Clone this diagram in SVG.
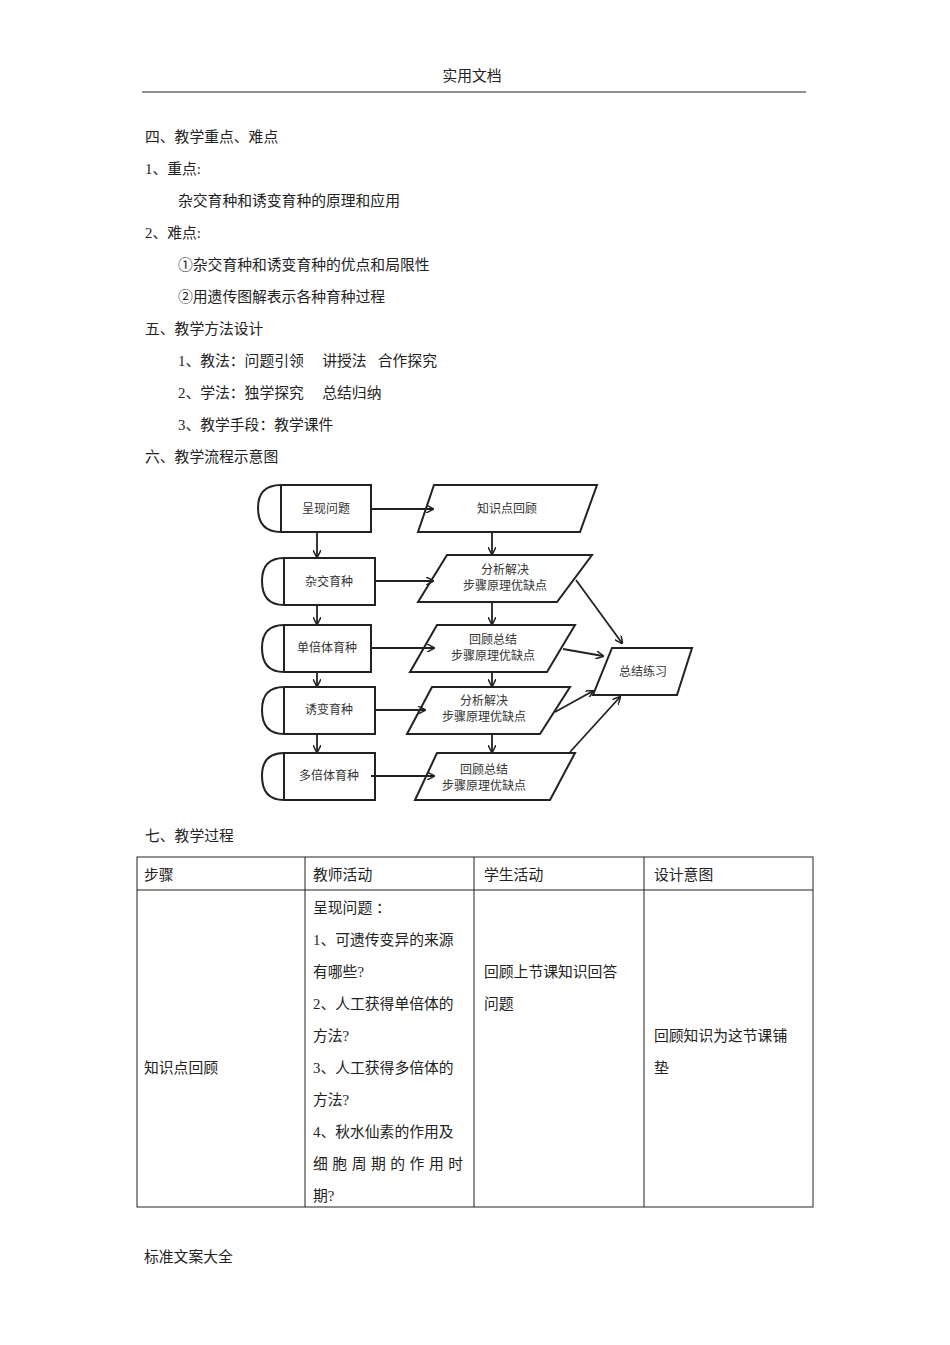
<svg xmlns="http://www.w3.org/2000/svg" width="950" height="1345" viewBox="0 0 950 1345">
<style>
text{font-family:"Liberation Serif","Noto Sans CJK SC",serif;font-size:14.8px;fill:#222}
.f{font-family:"Noto Sans CJK SC",sans-serif;font-size:12px;text-anchor:middle;fill:#333}
.n{fill:#fff;stroke:#222;stroke-width:2}
.c line{stroke:#222;stroke-width:1.8;marker-end:url(#a)}
.t{stroke:#222;stroke-width:1;fill:none}
</style>
<defs><marker id="a" markerWidth="8" markerHeight="8" refX="7" refY="4" orient="auto" markerUnits="userSpaceOnUse"><path d="M0,0 L8,4 L0,8" fill="none" stroke="#222" stroke-width="1.5"/></marker></defs>
<rect width="950" height="1345" fill="#fff"/>
<text x="472" y="81" text-anchor="middle" font-size="13">实用文档</text>
<line x1="142" y1="92" x2="806" y2="92" stroke="#222"/>
<text x="145" y="142">四、教学重点、难点</text>
<text x="145" y="174">1、重点:</text>
<text x="178" y="206">杂交育种和诱变育种的原理和应用</text>
<text x="145" y="238">2、难点:</text>
<text x="178" y="270">①杂交育种和诱变育种的优点和局限性</text>
<text x="178" y="302">②用遗传图解表示各种育种过程</text>
<text x="145" y="334">五、教学方法设计</text>
<text x="178" y="366" xml:space="preserve">1、教法：问题引领     讲授法   合作探究</text>
<text x="178" y="398" xml:space="preserve">2、学法：独学探究     总结归纳</text>
<text x="178" y="430">3、教学手段：教学课件</text>
<text x="145" y="462">六、教学流程示意图</text>
<g id="n1"><path class="n" d="M281,485 H371 V532 H281 Q258,532 258,508 Q258,485 281,485 Z"/><line x1="281" y1="485" x2="281" y2="532" stroke="#222" stroke-width="2"/><text class="f" x="326" y="513">呈现问题</text></g>
<g id="n2"><path class="n" d="M284,558 H375 V605 H284 Q262,605 262,581 Q262,558 284,558 Z"/><line x1="284" y1="558" x2="284" y2="605" stroke="#222" stroke-width="2"/><text class="f" x="329" y="586">杂交育种</text></g>
<g id="n3"><path class="n" d="M284,625 H371 V672 H284 Q262,672 262,648 Q262,625 284,625 Z"/><line x1="284" y1="625" x2="284" y2="672" stroke="#222" stroke-width="2"/><text class="f" x="327" y="652">单倍体育种</text></g>
<g id="n4"><path class="n" d="M284,687 H375 V734 H284 Q262,734 262,710 Q262,687 284,687 Z"/><line x1="284" y1="687" x2="284" y2="734" stroke="#222" stroke-width="2"/><text class="f" x="329" y="714">诱变育种</text></g>
<g id="n5"><path class="n" d="M284,753 H375 V800 H284 Q262,800 262,776 Q262,753 284,753 Z"/><line x1="284" y1="753" x2="284" y2="800" stroke="#222" stroke-width="2"/><text class="f" x="329" y="780">多倍体育种</text></g>
<g id="p1"><path class="n" d="M434,485 H597 L580,532 H418 Z"/><text class="f" x="507" y="513">知识点回顾</text></g>
<g id="p2"><path class="n" d="M447,555 H592 L557,602 H418 Z"/><text class="f" x="505" y="574">分析解决</text><text class="f" x="505" y="590">步骤原理优缺点</text></g>
<g id="p3"><path class="n" d="M437,625 H575 L547,672 H410 Z"/><text class="f" x="493" y="644">回顾总结</text><text class="f" x="493" y="660">步骤原理优缺点</text></g>
<g id="p4"><path class="n" d="M432,687 H570 L540,734 H407 Z"/><text class="f" x="484" y="705">分析解决</text><text class="f" x="484" y="721">步骤原理优缺点</text></g>
<g id="p5"><path class="n" d="M437,753 H575 L550,800 H415 Z"/><text class="f" x="484" y="774">回顾总结</text><text class="f" x="484" y="790">步骤原理优缺点</text></g>
<g id="s"><path class="n" d="M612,648 H692 L677,695 H593 Z"/><text class="f" x="643" y="676">总结练习</text></g>
<g class="c">
<line x1="371" y1="509" x2="433" y2="509"/><line x1="375" y1="581" x2="433" y2="581"/><line x1="371" y1="648" x2="434" y2="648"/><line x1="375" y1="710" x2="425" y2="710"/><line x1="371" y1="776" x2="434" y2="776"/>
<line x1="317" y1="532" x2="317" y2="557"/><line x1="317" y1="605" x2="317" y2="624"/><line x1="317" y1="672" x2="317" y2="686"/><line x1="317" y1="734" x2="317" y2="752"/>
<line x1="492" y1="532" x2="492" y2="554"/><line x1="492" y1="602" x2="492" y2="624"/><line x1="492" y1="672" x2="492" y2="686"/><line x1="492" y1="734" x2="492" y2="752"/>
<line x1="576" y1="580" x2="622" y2="643"/><line x1="563" y1="649" x2="603" y2="656"/><line x1="555" y1="712" x2="593" y2="691"/><line x1="570" y1="752" x2="620" y2="697"/>
</g>
<text x="145" y="841">七、教学过程</text>
<g class="t"><rect x="137" y="857" width="676" height="350"/><line x1="137" y1="890" x2="813" y2="890"/><line x1="305" y1="857" x2="305" y2="1207"/><line x1="474" y1="857" x2="474" y2="1207"/><line x1="644" y1="857" x2="644" y2="1207"/></g>
<text x="144" y="880">步骤</text><text x="313" y="880">教师活动</text><text x="484" y="880">学生活动</text><text x="654" y="880">设计意图</text>
<text x="313" y="913">呈现问题 ：</text>
<text x="313" y="945">1、可遗传变异的来源</text><text x="313" y="977">有哪些?</text>
<text x="313" y="1009">2、人工获得单倍体的</text><text x="313" y="1041">方法?</text>
<text x="313" y="1073">3、人工获得多倍体的</text><text x="313" y="1105">方法?</text>
<text x="313" y="1137">4、秋水仙素的作用及</text><text x="313" y="1169" textLength="150">细胞周期的作用时</text><text x="313" y="1201">期?</text>
<text x="484" y="977">回顾上节课知识回答</text><text x="484" y="1009">问题</text>
<text x="654" y="1041">回顾知识为这节课铺</text><text x="654" y="1073">垫</text>
<text x="144" y="1073">知识点回顾</text>
<text x="144" y="1262">标准文案大全</text>
</svg>
